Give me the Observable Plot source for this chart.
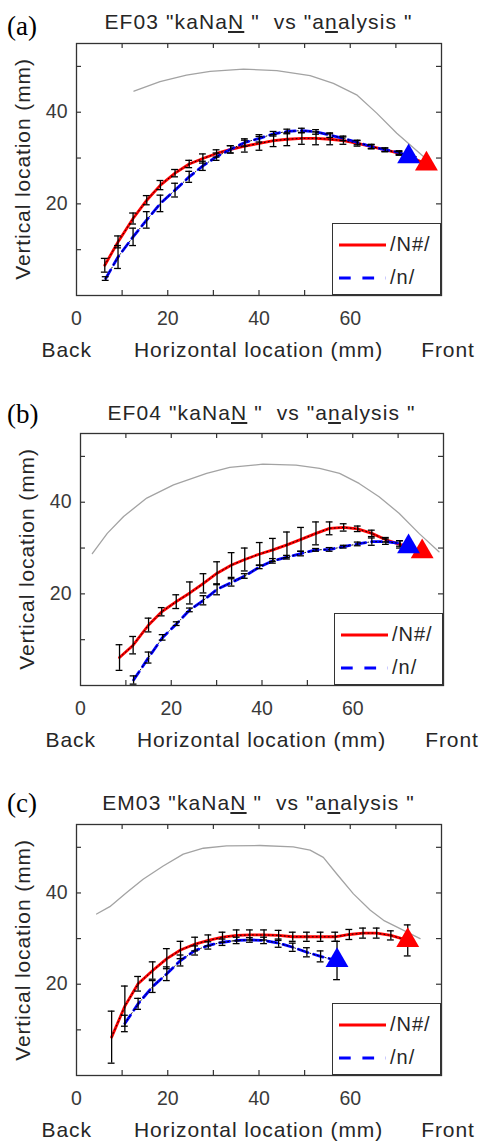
<!DOCTYPE html>
<html>
<head>
<meta charset="utf-8">
<script src="https://cdn.jsdelivr.net/npm/d3@7"></script>
<script src="https://cdn.jsdelivr.net/npm/@observablehq/plot@0.6"></script>
<style>
  html, body { margin: 0; padding: 0; background: #fff; }
  #root { width: 480px; }
  .panel { position: relative; width: 480px; overflow: hidden; }
  .panel svg { position: absolute; left: 0; top: 0; }
  .txt { position: absolute; white-space: pre; font-family: 'Liberation Sans', Arial, sans-serif; color: #262626; line-height: 24px; }
  .title { font-size: 21px; letter-spacing: 1.1px; text-align: center; width: 420px; }
  .tag { font-family: 'Liberation Serif', 'Times New Roman', serif; font-size: 27px; color: #000; line-height: 27px; }
  .xl { font-size: 21px; letter-spacing: 0.9px; transform: translateX(-50%); }
  .yl { font-size: 21px; letter-spacing: 0.9px; transform: translate(-50%, -50%) rotate(-90deg); }
  .legend { position: absolute; background: #fff; border: 1.3px solid #333; box-sizing: border-box; width: 109px; height: 72px; }
  .legend .lt { position: absolute; left: 57px; font-family: 'Liberation Sans', Arial, sans-serif; font-size: 20px; letter-spacing: 1px; color: #262626; line-height: 24px; }
  .legend svg { position: absolute; left: 6px; }
</style>
</head>
<body>
<div id="root"></div>
<script>
// ---------- shared tick values ----------
const xTickLabels = [0, 20, 40, 60];
const yTickLabels = [20, 40];
const xTicksMinor = [10, 20, 30, 40, 50, 60, 70];
const yTicksMinor = [10, 20, 30, 40, 50];
const seriesNames = ["/N#/", "/n/"];

// ---------- panel (a) EF03 ----------
const grayAX = [12.6, 18.3, 24.1, 29.3, 36.6, 43.9, 51.2, 56.3, 61.4, 65.8, 70.2, 76.1];
const grayAY = [44.6, 46.7, 48.1, 48.9, 49.4, 49.1, 48.0, 46.3, 43.8, 39.8, 35.4, 30.3];
const redAX = [6.2, 9.1, 12.4, 15.4, 18.4, 21.6, 24.7, 27.7, 30.7, 33.8, 36.9, 40.1, 43.2, 46.2, 49.4, 52.5, 55.6, 58.5, 61.6, 64.7, 67.7, 70.8, 73.9, 76.7];
const redAY = [6.6, 11.7, 16.8, 20.8, 24.1, 26.7, 28.7, 29.9, 31.0, 31.9, 32.6, 33.2, 33.8, 34.1, 34.3, 34.3, 34.1, 33.8, 33.2, 32.5, 31.8, 31.0, 29.9, 28.7];
const redAE = [1.5, 1.3, 1.2, 1.0, 1.0, 0.8, 0.8, 1.0, 0.8, 0.8, 1.3, 1.5, 1.3, 1.4, 1.3, 1.4, 1.2, 0.8, 0.6, 0.5, 0.4, 0.4, 0.4, 0];
const blueAX = [6.4, 9.1, 12.4, 15.4, 18.4, 21.6, 24.7, 27.7, 30.7, 33.8, 36.9, 40.1, 43.2, 46.2, 49.4, 52.5, 55.6, 58.5, 61.6, 64.7, 67.7, 70.8, 72.8];
const blueAY = [3.7, 8.4, 12.8, 16.5, 20.1, 23.0, 25.9, 28.3, 30.3, 31.9, 33.4, 34.3, 35.3, 35.8, 36.0, 35.7, 35.0, 34.3, 33.4, 32.5, 31.8, 31.2, 30.3];
const blueAE = [0.4, 2.5, 1.9, 1.8, 1.8, 1.5, 1.2, 1.0, 0.8, 0.8, 0.8, 0.8, 0.5, 0.5, 0.5, 0.5, 0.5, 0.5, 0.5, 0.4, 0.4, 0.4, 0];

// ---------- panel (b) EF04 ----------
const grayBX = [2.6, 5.9, 9.5, 14.6, 20.5, 27.8, 32.9, 40.2, 47.5, 52.7, 57.1, 61.4, 65.8, 70.2, 74.6, 79.0];
const grayBY = [28.8, 33.2, 36.9, 40.9, 43.8, 46.3, 47.6, 48.3, 48.1, 47.4, 46.3, 44.1, 41.2, 37.6, 33.2, 29.2];
const redBX = [8.6, 11.6, 15.0, 17.9, 21.1, 24.1, 27.1, 30.1, 33.3, 36.2, 39.5, 42.4, 45.5, 48.6, 51.9, 54.9, 58.0, 61.1, 64.2, 67.3, 70.4, 75.3];
const redBY = [6.1, 8.8, 13.2, 16.1, 18.3, 20.2, 22.3, 24.5, 26.3, 27.5, 28.7, 29.6, 30.7, 31.9, 33.2, 34.3, 34.5, 34.2, 33.2, 31.8, 30.8, 29.2];
const redBE = [2.8, 1.9, 1.5, 0.9, 1.5, 2.4, 2.1, 2.5, 2.7, 2.5, 2.5, 2.5, 2.8, 2.6, 2.5, 1.4, 0.8, 0.6, 0.7, 0.5, 0.8, 0];
const blueBX = [11.7, 15.0, 18.1, 21.2, 24.1, 27.1, 30.1, 33.3, 36.2, 39.5, 42.4, 45.5, 48.6, 51.9, 54.9, 58.0, 61.1, 64.2, 67.3, 70.4, 72.3];
const blueBY = [1.2, 6.1, 10.5, 13.5, 16.5, 18.6, 21.0, 22.5, 23.9, 25.9, 27.2, 28.0, 28.8, 29.6, 29.7, 30.3, 30.9, 31.4, 31.4, 31.0, 30.3];
const blueBE = [0.9, 1.2, 0.6, 0.4, 0.4, 1.0, 1.2, 0.8, 0.5, 0.4, 0.5, 0.4, 0.5, 0.3, 0.4, 0.3, 0.4, 0.8, 0.6, 0.6, 0];

// ---------- panel (c) EM03 ----------
const grayCX = [4.4, 7.3, 11.0, 14.6, 19.0, 23.4, 27.8, 32.9, 40.2, 47.5, 51.2, 54.1, 57.1, 60.7, 64.4, 67.3, 71.7, 75.3];
const grayCY = [35.4, 37.0, 40.1, 43.0, 45.9, 48.5, 49.8, 50.3, 50.4, 50.1, 49.4, 47.8, 44.1, 39.8, 36.2, 34.0, 31.8, 30.0];
const redCX = [7.7, 10.6, 13.5, 16.7, 19.8, 22.8, 26.0, 28.9, 32.0, 35.1, 38.0, 41.1, 44.3, 47.4, 50.5, 53.5, 56.7, 59.8, 62.8, 65.8, 68.9, 72.6];
const redCY = [8.4, 15.2, 20.1, 23.0, 25.6, 27.5, 28.8, 29.6, 30.3, 30.7, 30.8, 30.8, 30.7, 30.4, 30.4, 30.4, 30.4, 30.9, 31.2, 31.2, 30.7, 29.6];
const redCE = [5.7, 4.4, 1.6, 1.9, 2.2, 1.9, 1.5, 1.2, 1.1, 1.2, 1.1, 1.1, 1.1, 1.0, 1.0, 1.0, 1.0, 1.1, 1.1, 1.1, 1.0, 3.4];
const blueCX = [10.6, 13.5, 16.7, 19.8, 22.8, 26.0, 28.9, 32.0, 35.1, 38.0, 41.1, 44.3, 47.4, 50.5, 53.5, 57.1];
const blueCY = [11.4, 15.7, 19.5, 22.3, 25.2, 27.4, 28.5, 29.2, 29.6, 29.7, 29.6, 29.0, 28.1, 27.0, 26.1, 25.2];
const blueCE = [1.8, 1.2, 1.3, 1.5, 1.2, 1.0, 0.8, 0.7, 0.7, 0.5, 0.7, 0.9, 0.9, 1.0, 1.2, 4.2];

const panels = [
  { tag: "(a)", title: 'EF03 "kaNa<u>N</u> "  vs "a<u>n</u>alysis "', height: 390, L: 76, R: 441, T: 43, B: 295, tagTop: 13, titleTop: 10, ylx: 23,
    grayX: grayAX, grayY: grayAY, redX: redAX, redY: redAY, redE: redAE, blueX: blueAX, blueY: blueAY, blueE: blueAE },
  { tag: "(b)", title: 'EF04 "kaNa<u>N</u> "  vs "a<u>n</u>alysis "', height: 390, L: 80, R: 443, T: 43, B: 295, tagTop: 11, titleTop: 11, ylx: 27,
    grayX: grayBX, grayY: grayBY, redX: redBX, redY: redBY, redE: redBE, blueX: blueBX, blueY: blueBY, blueE: blueBE },
  { tag: "(c)", title: 'EM03 "kaNa<u>N</u> "  vs "a<u>n</u>alysis "', height: 362, L: 76, R: 441, T: 44, B: 295, tagTop: 10, titleTop: 11, ylx: 23,
    grayX: grayCX, grayY: grayCY, redX: redCX, redY: redCY, redE: redCE, blueX: blueCX, blueY: blueCY, blueE: blueCE }
];

const toPts = (X, Y, E) => X.map((x, i) => ({ x, y: Y[i], e: E ? E[i] : 0 }));

function makePlot(p) {
  const gray = toPts(p.grayX, p.grayY);
  const red = toPts(p.redX, p.redY, p.redE);
  const blue = toPts(p.blueX, p.blueY, p.blueE);
  const bars = red.filter(d => d.e > 0).concat(blue.filter(d => d.e > 0));
  const redTip = [red[red.length - 1]];
  const blueTip = [blue[blue.length - 1]];
  const capW = 0.75;
  const ink = "#333";
  return Plot.plot({
    width: 480,
    height: p.height,
    marginLeft: p.L,
    marginRight: 480 - p.R,
    marginTop: p.T,
    marginBottom: p.height - p.B,
    x: { domain: [0, 80] },
    y: { domain: [0, 55] },
    style: { fontFamily: "'Liberation Sans', Arial, sans-serif", fontSize: "19.5px", color: "#333", background: "transparent", overflow: "visible" },
    marks: [
      Plot.line(gray, { x: "x", y: "y", stroke: "#a3a3a3", strokeWidth: 1.3 }),
      Plot.line(red, { x: "x", y: "y", stroke: "#ff0000", strokeWidth: 2.8 }),
      Plot.line(red, { x: "x", y: "y", stroke: "#000", strokeWidth: 0.9, strokeDasharray: "1,3" }),
      Plot.line(blue, { x: "x", y: "y", stroke: "#0000ff", strokeWidth: 2.8, strokeDasharray: "10,6" }),
      Plot.line(blue, { x: "x", y: "y", stroke: "#000", strokeWidth: 0.9, strokeDasharray: "1,3" }),
      Plot.ruleX(bars, { x: "x", y1: d => d.y - d.e, y2: d => d.y + d.e, stroke: "#000", strokeWidth: 1.3 }),
      Plot.ruleY(bars, { y: d => d.y - d.e, x1: d => d.x - capW, x2: d => d.x + capW, stroke: "#000", strokeWidth: 1.3 }),
      Plot.ruleY(bars, { y: d => d.y + d.e, x1: d => d.x - capW, x2: d => d.x + capW, stroke: "#000", strokeWidth: 1.3 }),
      Plot.dot(redTip, { x: "x", y: "y", symbol: "triangle", r: 8.5, fill: "#ff0000", stroke: "none" }),
      Plot.dot(blueTip, { x: "x", y: "y", symbol: "triangle", r: 8.5, fill: "#0000ff", stroke: "none" }),
      Plot.ruleX(xTicksMinor, { y1: 0, y2: 1.1, stroke: ink, strokeWidth: 1.2 }),
      Plot.ruleX(xTicksMinor, { y1: 55, y2: 53.9, stroke: ink, strokeWidth: 1.2 }),
      Plot.ruleY(yTicksMinor, { x1: 0, x2: 1.1, stroke: ink, strokeWidth: 1.2 }),
      Plot.ruleY(yTicksMinor, { x1: 80, x2: 78.9, stroke: ink, strokeWidth: 1.2 }),
      Plot.frame({ stroke: ink, strokeWidth: 1.3 }),
      Plot.axisX(xTickLabels, { tickSize: 0, tickPadding: 16, label: null, fill: "#3a3a3a" }),
      Plot.axisY(yTickLabels, { tickSize: 0, tickPadding: 9, label: null, fill: "#3a3a3a" })
    ]
  });
}

const root = document.getElementById("root");
for (const p of panels) {
  const div = document.createElement("div");
  div.className = "panel";
  div.style.height = p.height + "px";
  div.appendChild(makePlot(p));

  const add = (cls, html, css) => {
    const e = document.createElement("div");
    e.className = "txt " + cls;
    e.innerHTML = html;
    Object.assign(e.style, css);
    div.appendChild(e);
    return e;
  };
  add("tag", p.tag, { left: "7px", top: p.tagTop + "px" });
  add("title", p.title, { left: ((p.L + p.R) / 2 - 210) + "px", top: p.titleTop + "px" });
  add("xl", "Back", { left: (p.L - 9.3) + "px", top: (p.B + 43) + "px" });
  add("xl", "Horizontal location (mm)", { left: ((p.L + p.R) / 2) + "px", top: (p.B + 43) + "px" });
  add("xl", "Front", { left: (p.L + 372) + "px", top: (p.B + 43) + "px" });
  add("yl", "Vertical location (mm)", { left: p.ylx + "px", top: ((p.T + p.B) / 2) + "px" });

  const lg = document.createElement("div");
  lg.className = "legend";
  lg.style.left = (p.R - 109) + "px";
  lg.style.top = (p.B - 72) + "px";
  lg.innerHTML =
    '<svg width="48" height="6" style="top:18px"><line x1="0" x2="47" y1="3" y2="3" stroke="#ff0000" stroke-width="2.8"/></svg>' +
    '<div class="lt" style="top:8px">' + seriesNames[0] + '</div>' +
    '<svg width="48" height="6" style="top:51px"><line x1="0" x2="47" y1="3" y2="3" stroke="#0000ff" stroke-width="2.8" stroke-dasharray="11.7,11.7"/></svg>' +
    '<div class="lt" style="top:41px">' + seriesNames[1] + '</div>';
  div.appendChild(lg);

  root.appendChild(div);
}
</script>
</body>
</html>
